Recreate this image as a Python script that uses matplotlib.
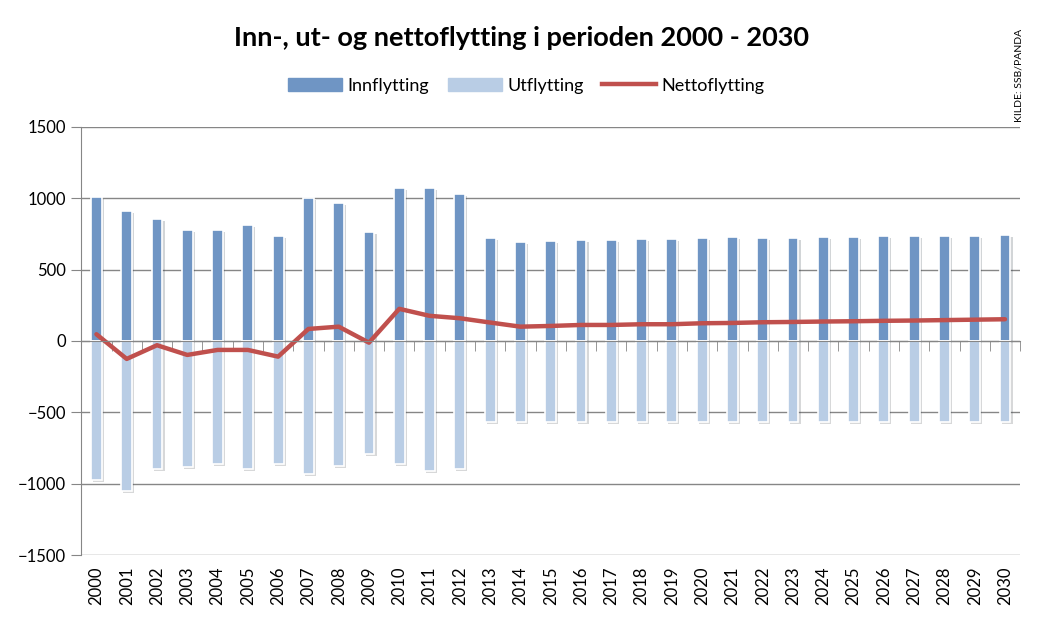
import numpy as np
import matplotlib.pyplot as plt
import matplotlib.patheffects as pe
from matplotlib.lines import Line2D
from matplotlib.patches import Patch

years = list(range(2000, 2031))
innflytting = [1007, 909, 852, 775, 775, 810, 733, 1000, 965, 761, 1070,
               1075, 1033, 719, 691, 698, 705, 705, 712, 712, 719,
               726, 724, 724, 731, 731, 738, 738, 738, 738, 745]
utflytting = [-977, -1049, -899, -883, -864, -895, -864, -934, -878, -789, -860,
              -913, -899, -567, -567, -567, -567, -567, -567, -567, -567,
              -567, -567, -567, -567, -567, -567, -567, -567, -567, -567]
nettoflytting = [47, -126, -30, -98, -63, -63, -110, 84, 100, -12, 225,
                 176, 159, 129, 100, 105, 112, 112, 117, 117, 124,
                 126, 131, 133, 136, 138, 141, 143, 146, 149, 152]

plt.rcParams["font.family"] = ["Lato", "DejaVu Sans"]

c_inn = "#6f95c4"
c_ut = "#b9cde5"
c_net = "#c0504d"
c_grid = "#868686"

fig = plt.figure(figsize=(10.42, 6.25), dpi=100)
ax = fig.add_axes([0.078, 0.112, 0.901, 0.685])

x = np.arange(len(years))
shadow = [pe.SimplePatchShadow(offset=(1.5, -1.5), alpha=0.2), pe.Normal()]
b1 = ax.bar(x, innflytting, width=0.36, color=c_inn, edgecolor="white", linewidth=1.2, zorder=3)
b2 = ax.bar(x, utflytting, width=0.36, color=c_ut, edgecolor="white", linewidth=1.2, zorder=3)
for b in list(b1) + list(b2):
    b.set_path_effects(shadow)
ax.plot(x, nettoflytting, color=c_net, linewidth=3.2, zorder=4, solid_capstyle="round")

ax.set_xlim(-0.5, len(years) - 0.5)
ax.set_ylim(-1500, 1500)
ax.set_yticks(range(-1500, 1501, 500))
ax.yaxis.grid(True, color=c_grid, linewidth=1)
ax.set_axisbelow(True)
ax.tick_params(axis="y", length=7, color=c_grid, labelsize=12, pad=4)

for s in ["top", "right"]:
    ax.spines[s].set_visible(False)
ax.spines["left"].set_color(c_grid)
ax.spines["bottom"].set_position(("data", 0))
ax.spines["bottom"].set_color(c_grid)
ax.spines["bottom"].set_zorder(5)

ax.set_xticks(x)
ax.set_xticklabels([])
ax.tick_params(axis="x", which="major", length=0)
ax.set_xticks(np.arange(-0.5, len(years), 1), minor=True)
ax.tick_params(axis="x", which="minor", length=7, color=c_grid, direction="out")

sec = ax.secondary_xaxis(0.0)
sec.set_xticks(x)
sec.set_xticklabels([str(y) for y in years], rotation=90, fontsize=12)
sec.tick_params(length=0, pad=8)
sec.spines["bottom"].set_visible(False)

fig.text(0.5, 0.94, "Inn-, ut- og nettoflytting i perioden 2000 - 2030",
         ha="center", va="center", fontsize=19.5, fontweight="bold")

handles = [Patch(color=c_inn), Patch(color=c_ut), Line2D([0], [0], color=c_net, linewidth=3.2)]
fig.legend(handles, ["Innflytting", "Utflytting", "Nettoflytting"], loc="center",
           bbox_to_anchor=(0.505, 0.863), ncol=3, frameon=False, fontsize=13,
           handlelength=3.0, handleheight=0.8, columnspacing=1.0, handletextpad=0.3)

fig.text(0.9775, 0.88, "KILDE: SSB/PANDA", rotation=90, ha="center", va="center", fontsize=7.5)

fig.savefig("out.png", dpi=100)
